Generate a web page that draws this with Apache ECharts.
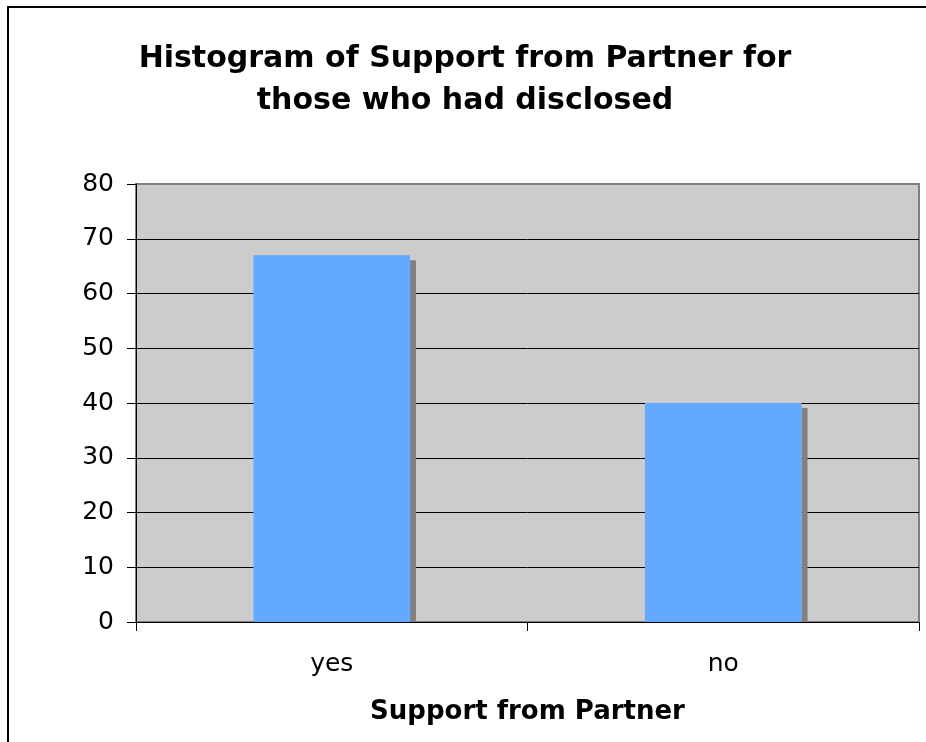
<!DOCTYPE html>
<html>
<head>
<meta charset="utf-8">
<script src="https://cdn.jsdelivr.net/npm/echarts@6/dist/echarts.min.js"></script>
<style>
  html, body { margin: 0; padding: 0; background: #ffffff; }
  #chart { width: 926px; height: 742px; }
</style>
</head>
<body>
<div id="chart"></div>
<script>
// Support from partner among those who had disclosed
const categories = ['yes', 'no'];
const counts = [67, 40];
const yTicks = { min: 0, max: 80, interval: 10 };

const chart = echarts.init(document.getElementById('chart'));

// Bars with a flat drop shadow on the right, drawn through the axis scales
function renderBar(params, api) {
  const top = api.coord([api.value(0), api.value(1)]);
  const base = api.coord([api.value(0), 0]);
  const band = api.size([1, 0])[0];
  const w = band * 0.4;
  const x = top[0] - w / 2;
  const h = base[1] - top[1];
  return {
    type: 'group',
    children: [
      { type: 'rect', shape: { x: x + w, y: top[1] + 5, width: 6, height: h - 5 },
        style: { fill: '#808080' } },
      { type: 'rect', shape: { x: x, y: top[1], width: w, height: h },
        style: { fill: '#63a9ff' } }
    ]
  };
}

chart.setOption({
  animation: false,
  backgroundColor: '#ffffff',
  graphic: [{
    type: 'rect',
    shape: { x: 8, y: 7, width: 940, height: 760 },
    style: { fill: 'none', stroke: '#000000', lineWidth: 2 },
    z: 100
  }],
  title: {
    text: 'Histogram of Support from Partner for\nthose who had disclosed',
    left: 460, top: 33,
    textAlign: 'center',
    textStyle: {
      fontFamily: 'DejaVu Sans', fontWeight: 'bold', fontSize: 30,
      lineHeight: 42, color: '#000000'
    }
  },
  grid: {
    left: 136, top: 184, right: 7, bottom: 120,
    show: true, backgroundColor: '#cccccc',
    borderColor: '#808080', borderWidth: 2
  },
  xAxis: {
    type: 'category',
    data: categories,
    name: 'Support from Partner',
    nameLocation: 'middle',
    nameGap: 77,
    nameTextStyle: { fontFamily: 'DejaVu Sans', fontWeight: 'bold', fontSize: 26, color: '#000000' },
    axisLine: { show: true, lineStyle: { color: '#000000', width: 1 } },
    axisTick: { show: true, length: 9, alignWithLabel: false, lineStyle: { color: '#000000' } },
    axisLabel: { fontFamily: 'DejaVu Sans', fontSize: 25, color: '#000000', margin: 30 },
    splitLine: { show: false }
  },
  yAxis: {
    type: 'value',
    min: yTicks.min, max: yTicks.max, interval: yTicks.interval,
    axisLine: { show: true, lineStyle: { color: '#000000', width: 1 } },
    axisTick: { show: true, length: 9, lineStyle: { color: '#000000' } },
    axisLabel: { fontFamily: 'DejaVu Sans', fontSize: 25, color: '#000000', margin: 22 },
    splitLine: { show: true, showMaxLine: false, lineStyle: { color: '#000000', width: 1 } }
  },
  series: [{
    type: 'custom',
    renderItem: renderBar,
    encode: { x: 0, y: 1 },
    data: categories.map((c, i) => [c, counts[i]]),
    z: 2
  }]
});
</script>
</body>
</html>
